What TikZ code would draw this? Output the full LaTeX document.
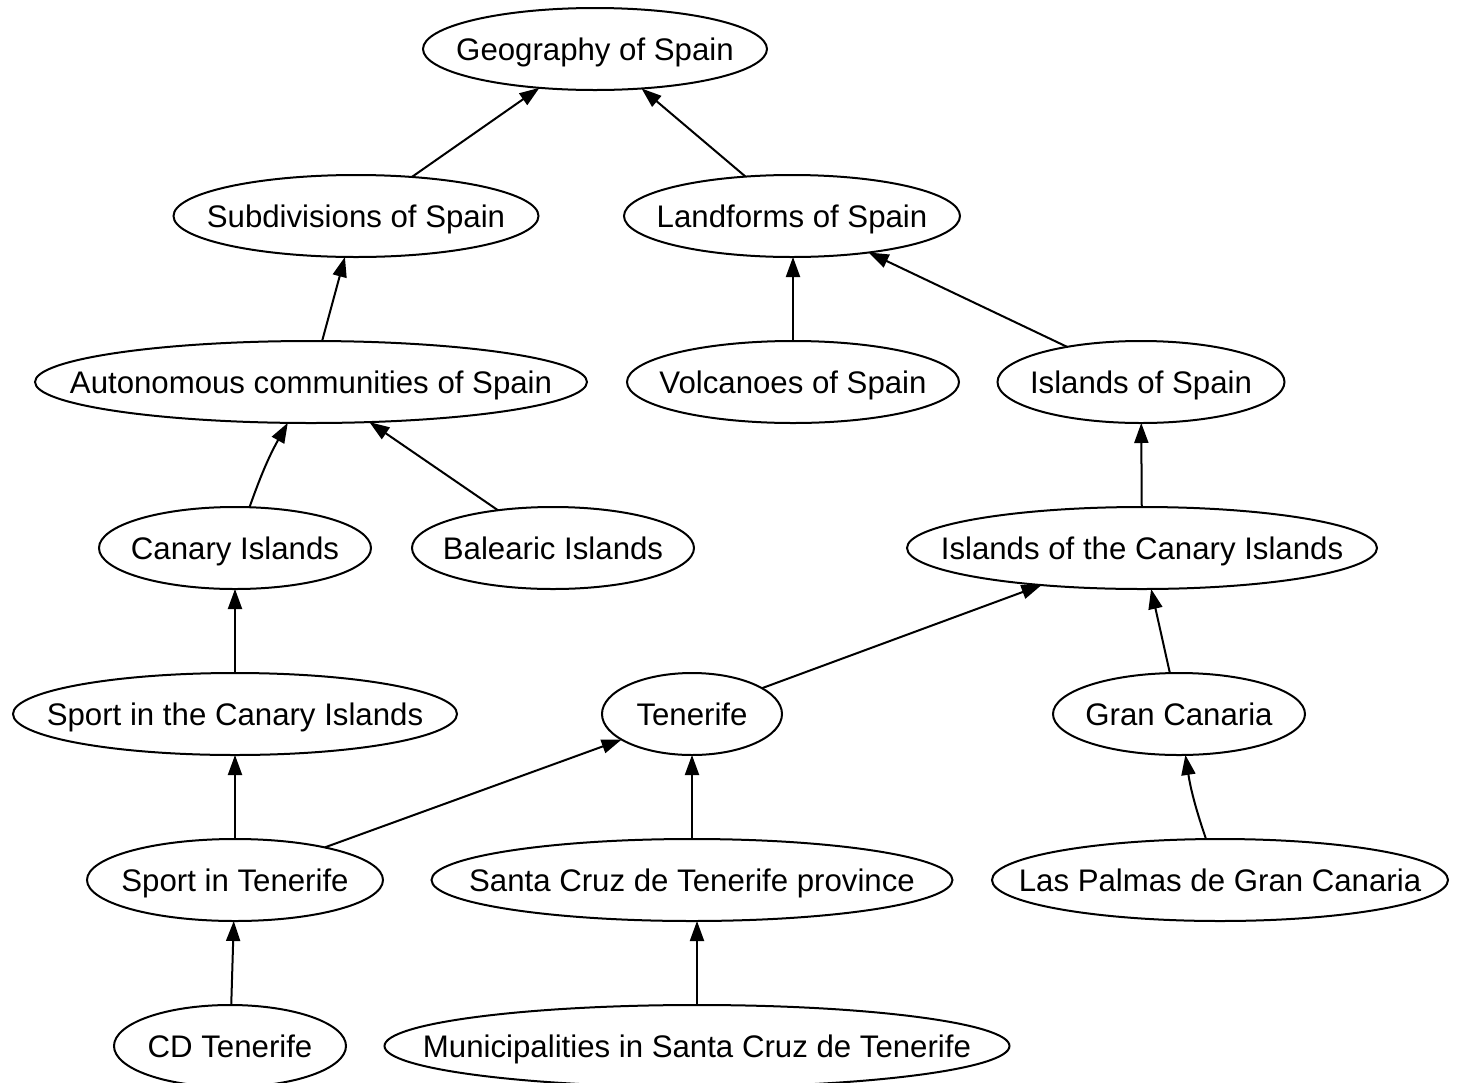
\documentclass[tikz,border=0pt]{standalone}
\usepackage{fontspec}
\setmainfont{Liberation Sans}
\usetikzlibrary{shapes.geometric,arrows.meta}
\newcommand{\ntext}[1]{\makebox[0pt]{#1}}

\begin{document}
\begin{tikzpicture}[x=0.5pt,y=-0.5pt,
	cat/.style={draw,ellipse,line width=1pt,inner sep=0,outer sep=0,minimum height=41pt,minimum width=#1,text height=11.2pt,text depth=0pt,font=\fontsize{15.6}{18}\selectfont},
	edge/.style={line width=1pt,-{Triangle[length=10pt,width=7pt]}}]
	\useasboundingbox (0,0) rectangle (1464,1083);
	\node[cat=172pt] (geo) at (595,49) {\ntext{Geography of Spain}};
	\node[cat=182.5pt] (subdiv) at (356,216) {\ntext{Subdivisions of Spain}};
	\node[cat=168pt] (landforms) at (792,216) {\ntext{Landforms of Spain}};
	\node[cat=276pt] (autonomous) at (311,382) {\ntext{Autonomous communities of Spain}};
	\node[cat=166pt] (volcanoes) at (793,382) {\ntext{Volcanoes of Spain}};
	\node[cat=143.5pt] (islands) at (1141,382) {\ntext{Islands of Spain}};
	\node[cat=136pt] (canary) at (235,548) {\ntext{Canary Islands}};
	\node[cat=141pt] (balearic) at (553,548) {\ntext{Balearic Islands}};
	\node[cat=235pt] (islcanary) at (1142,548) {\ntext{Islands of the Canary Islands}};
	\node[cat=222pt] (sportcanary) at (235,714) {\ntext{Sport in the Canary Islands}};
	\node[cat=90pt] (tenerife) at (692,714) {\ntext{Tenerife}};
	\node[cat=126pt] (grancanaria) at (1179,714) {\ntext{Gran Canaria}};
	\node[cat=148pt] (sporttenerife) at (235,880) {\ntext{Sport in Tenerife}};
	\node[cat=260.5pt] (santacruz) at (692,880) {\ntext{Santa Cruz de Tenerife province}};
	\node[cat=228pt] (laspalmas) at (1220,880) {\ntext{Las Palmas de Gran Canaria}};
	\node[cat=116pt] (cdtenerife) at (230,1046) {\ntext{CD Tenerife}};
	\node[cat=312.5pt] (municipalities) at (697,1046) {\ntext{Municipalities in Santa Cruz de Tenerife}};
	\draw[edge] (subdiv) -- (geo);
	\draw[edge] (landforms) -- (geo);
	\draw[edge] (autonomous) -- (subdiv);
	\draw[edge] (volcanoes.north) -- (volcanoes.north |- landforms.south);
	\draw[edge] (islands) -- (landforms);
	\draw[edge] (canary) to[bend left=5] (autonomous);
	\draw[edge] (balearic) -- (autonomous);
	\draw[edge] (islcanary) -- (islands);
	\draw[edge] (sportcanary) -- (canary);
	\draw[edge] (tenerife) -- (islcanary);
	\draw[edge] (grancanaria) -- (islcanary);
	\draw[edge] (sporttenerife) -- (sportcanary);
	\draw[edge] (sporttenerife) -- (tenerife);
	\draw[edge] (santacruz) -- (tenerife);
	\draw[edge] (laspalmas) to[bend left=5] (grancanaria);
	\draw[edge] (cdtenerife) -- (sporttenerife);
	\draw[edge] (municipalities.north) -- (municipalities.north |- santacruz.south);
\end{tikzpicture}
\end{document}
